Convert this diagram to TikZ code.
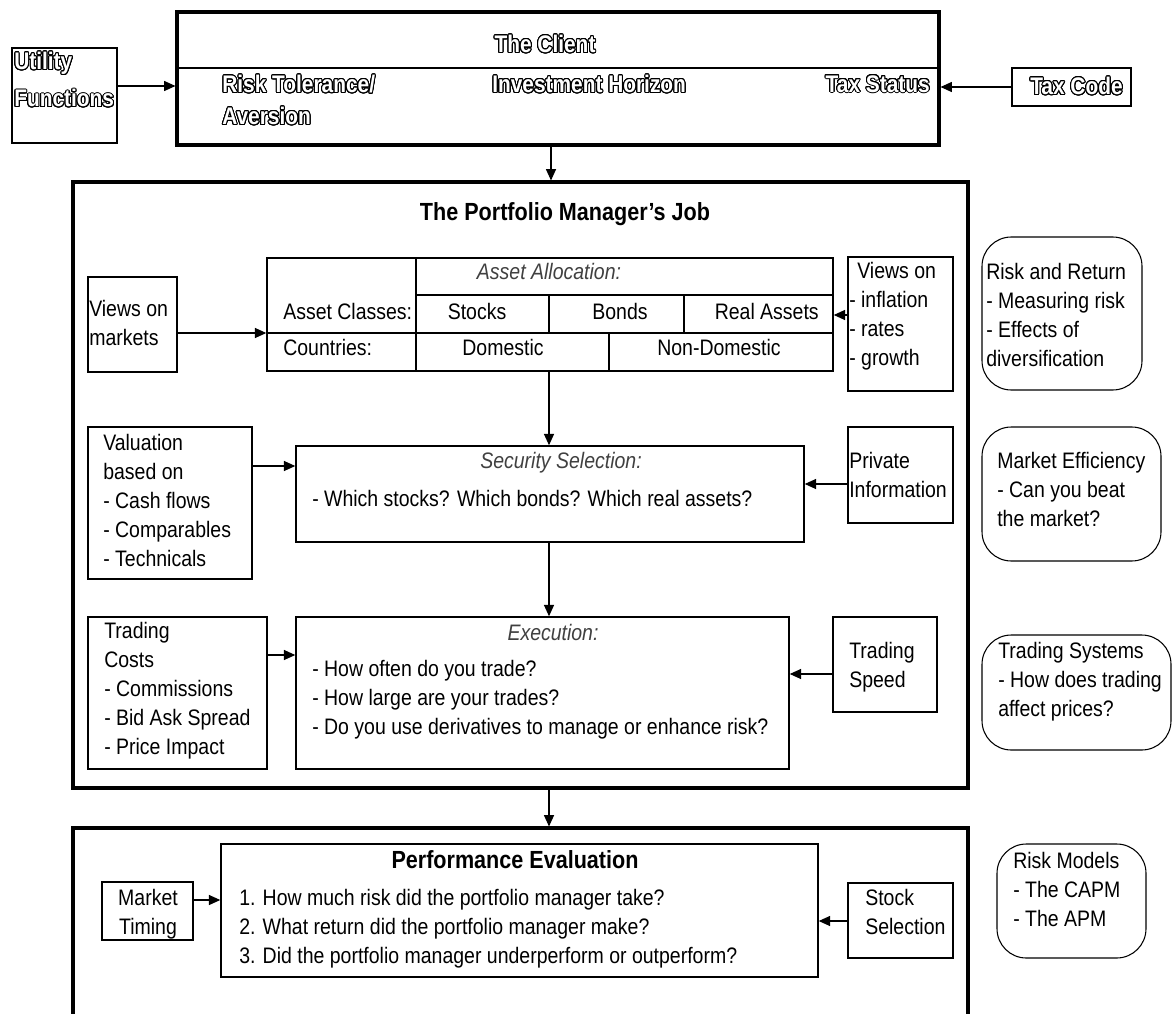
\documentclass[tikz,border=0pt]{standalone}
\usepackage{fontspec}
\setmainfont{Liberation Sans}[FakeStretch=0.87]
\usepackage{contour}
\contourlength{0.75pt}
\contournumber{24}
\usetikzlibrary{arrows.meta,fit}

% hollow (outlined) lettering used in the client panel
\newcommand\hollow[1]{\contour{black}{\textcolor{white}{#1}}}

\begin{document}
\begin{tikzpicture}[x=0.75pt,y=-0.75pt,
  boxline/.style={draw, line width=1.1pt, inner sep=0pt},
  heavybox/.style={draw, line width=2.3pt, inner sep=0pt},
  roundbox/.style={draw, line width=0.8pt, inner sep=0pt, rounded corners=22pt},
  arr/.style={line width=0.9pt, -{Triangle[length=8.5pt,width=7.5pt]}},
  body/.style={inner sep=0pt, align=left, font=\fontsize{16.8}{21.75}\selectfont},
  cbody/.style={body, align=center},
  ttl/.style={inner sep=0pt, font=\fontsize{18.6}{21}\selectfont\bfseries},
  hol/.style={inner sep=0pt, align=left, font=\fontsize{18}{24}\selectfont\bfseries},
  ital/.style={inner sep=0pt, text=black!75, font=\fontsize{16.8}{21.75}\selectfont\itshape}
]
\useasboundingbox (0,0) rectangle (1173,1013);
\fill[white] (0,0) rectangle (1173,1013);
\clip (0,0) rectangle (1173,1013);

% ---------- the client ----------
\node[heavybox, fit={(177,12) (939,145)}] (client) {};
\draw[line width=1.3pt] (177,68) -- (939,68);
\node[hol, anchor=north] (clientT) at (545,35) {\hollow{The Client}};
\node[hol, anchor=north west] (riskT) at (222,75) {\hollow{Risk Tolerance/}\\\hollow{Aversion}};
\node[hol, anchor=north west] (horizonT) at (492,75) {\hollow{Investment Horizon}};
\node[hol, anchor=north east] (taxT) at (930,75) {\hollow{Tax Status}};

\node[boxline, fit={(12,48) (117,143)}] (util) {};
\node[hol, anchor=north west, font=\fontsize{18}{28}\selectfont\bfseries] (utilT) at (14,52) {\hollow{Utility}\\\hollow{Functions}};

\node[boxline, fit={(1012,68) (1131,106)}] (taxcode) {};
\node[hol, anchor=north west] (taxcodeT) at (1030,77) {\hollow{Tax Code}};

% ---------- the portfolio manager's job ----------
\node[heavybox, fit={(73,182) (968,788)}] (job) {};
\node[ttl, anchor=north] (jobT) at (565,202) {The Portfolio Manager's Job};

\node[boxline, fit={(88,277) (177,372)}] (views1) {};
\node[body, anchor=north west] (views1T) at (89,300) {Views on\\markets};

% asset allocation table
\node[boxline, fit={(267,258) (833,371)}] (alloc) {};
\draw[line width=1.1pt] (416,258) -- (416,371);
\draw[line width=1.1pt] (416,295) -- (833,295);
\draw[line width=1.1pt] (267,333) -- (833,333);
\draw[line width=1.1pt] (549,295) -- (549,333);
\draw[line width=1.1pt] (684,295) -- (684,333);
\draw[line width=1.1pt] (609,333) -- (609,371);
\node[ital, anchor=north] (allocT) at (549,263) {Asset Allocation:};
\node[body, anchor=north west] (classesT) at (283,303) {Asset Classes:};
\node[body, anchor=north west] (countriesT) at (283,339) {Countries:};
\node[body, anchor=north] (stocksT) at (477,303) {Stocks};
\node[body, anchor=north] (bondsT) at (620,303) {Bonds};
\node[body, anchor=north east] (realT) at (819,303) {Real Assets};
\node[body, anchor=north] (domT) at (503,339) {Domestic};
\node[body, anchor=north] (nondomT) at (719,339) {Non-Domestic};

\node[boxline, fit={(848,257) (953,391)}] (views2) {};
\node[body, anchor=north west] (views2T) at (849,262) {\hspace*{6pt}Views on\\- inflation\\- rates\\- growth};

% security selection
\node[boxline, fit={(88,427) (252,579)}] (valu) {};
\node[body, anchor=north west] (valuT) at (103,434) {Valuation\\based on\\- Cash flows\\- Comparables\\- Technicals};

\node[boxline, fit={(296,446) (804,542)}] (sec) {};
\node[ital, anchor=north] (secT) at (561,452) {Security Selection:};
\node[body, anchor=north west] (secB) at (312,490) {- Which stocks? Which bonds? Which real assets?};

\node[boxline, fit={(848,427) (953,523)}] (priv) {};
\node[body, anchor=north west] (privT) at (849,452) {Private\\Information};

% execution
\node[boxline, fit={(88,617) (267,769)}] (tcost) {};
\node[body, anchor=north west] (tcostT) at (104,622) {Trading\\Costs\\- Commissions\\- Bid Ask Spread\\- Price Impact};

\node[boxline, fit={(296,617) (789,769)}] (exec) {};
\node[ital, anchor=north] (execT) at (553,624) {Execution:};
\node[body, anchor=north west] (execB) at (312,660) {- How often do you trade?\\- How large are your trades?\\- Do you use derivatives to manage or enhance risk?};

\node[boxline, fit={(833,617) (937,712)}] (speed) {};
\node[body, anchor=north west] (speedT) at (849,642) {Trading\\Speed};

% ---------- performance evaluation ----------
\node[heavybox, fit={(73,828) (968,1040)}] (evalbox) {};

\node[boxline, fit={(221,844) (818,977)}] (perf) {};
\node[ttl, anchor=north] (perfT) at (515,850) {Performance Evaluation};
\node[body, anchor=north west] (perfB) at (239,889) {1. How much risk did the portfolio manager take?\\2. What return did the portfolio manager make?\\3. Did the portfolio manager underperform or outperform?};

\node[boxline, fit={(102,882) (193,940)}] (mtime) {};
\node[cbody, anchor=north] (mtimeT) at (148,889) {Market\\Timing};

\node[boxline, fit={(848,883) (953,958)}] (stock) {};
\node[body, anchor=north west] (stockT) at (865,889) {Stock\\Selection};

% ---------- side topics ----------
\node[roundbox, fit={(982,237) (1142,390)}] (riskret) {};
\node[body, anchor=north west] (riskretT) at (986,263) {Risk and Return\\- Measuring risk\\- Effects of\\diversification};

\node[roundbox, fit={(982,427) (1161,561)}] (mkteff) {};
\node[body, anchor=north west] (mkteffT) at (997,452) {Market Efficiency\\- Can you beat\\the market?};

\node[roundbox, fit={(982,635) (1171,750)}] (trsys) {};
\node[body, anchor=north west] (trsysT) at (998,642) {Trading Systems\\- How does trading\\affect prices?};

\node[roundbox, fit={(997,844) (1146,958)}] (riskmod) {};
\node[body, anchor=north west] (riskmodT) at (1013,852) {Risk Models\\- The CAPM\\- The APM};

% ---------- connectors ----------
\draw[arr] (util.east |- 0,86) -- (client.west |- 0,86);
\draw[arr] (taxcode.west |- 0,87) -- (client.east |- 0,87);
\draw[arr] (client.south -| 551,0) -- (job.north -| 551,0);
\draw[arr] (views1.east |- 0,333) -- (alloc.west |- 0,333);
\draw[arr] (views2.west |- 0,315) -- (alloc.east |- 0,315);
\draw[arr] (alloc.south -| 549,0) -- (sec.north -| 549,0);
\draw[arr] (valu.east |- 0,466) -- (sec.west |- 0,466);
\draw[arr] (priv.west |- 0,484) -- (sec.east |- 0,484);
\draw[arr] (sec.south -| 549,0) -- (exec.north -| 549,0);
\draw[arr] (tcost.east |- 0,655) -- (exec.west |- 0,655);
\draw[arr] (speed.west |- 0,674) -- (exec.east |- 0,674);
\draw[arr] (job.south -| 549,0) -- (evalbox.north -| 549,0);
\draw[arr] (mtime.east |- 0,900) -- (perf.west |- 0,900);
\draw[arr] (stock.west |- 0,921) -- (perf.east |- 0,921);
\end{tikzpicture}
\end{document}
